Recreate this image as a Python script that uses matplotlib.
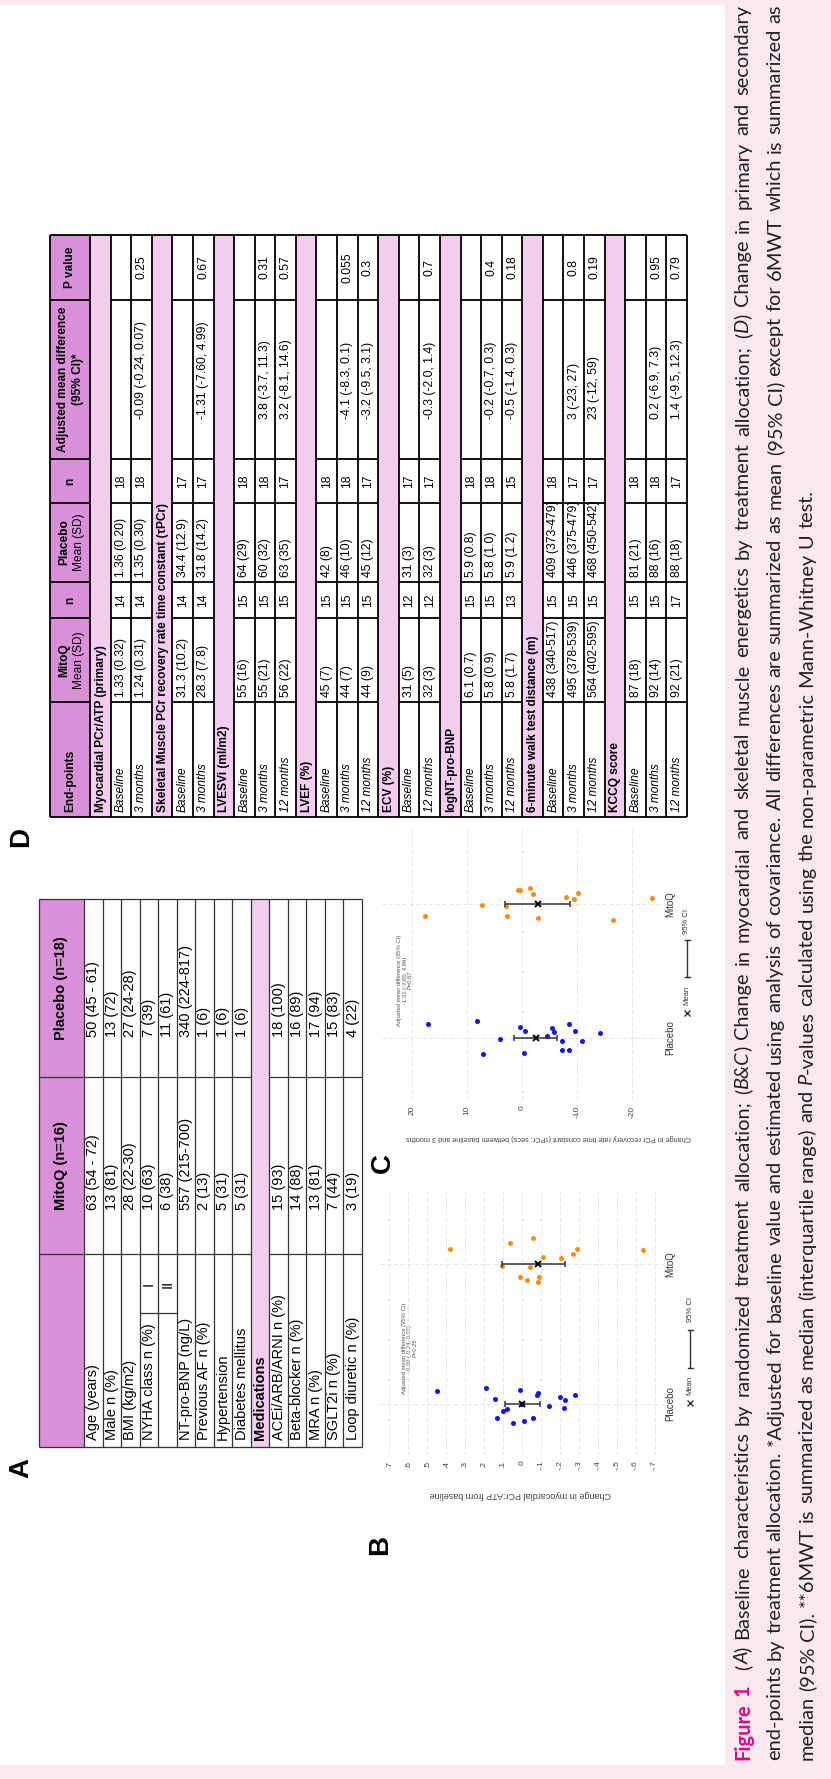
import numpy as np
import matplotlib
matplotlib.use("Agg")
import matplotlib.pyplot as plt
from matplotlib.patches import Rectangle
from matplotlib.collections import LineCollection
import matplotlib.transforms as mtransforms

# ======================= DATA =======================
# ---- Table A: baseline characteristics ----
tabA_header = ["", "MitoQ (n=16)", "Placebo (n=18)"]
tabA_labels = ["Age (years)", "Male n (%)", "BMI (kg/m2)", "NYHA class n (%)", "",
               "NT-pro-BNP (ng/L)", "Previous AF n (%)", "Hypertension", "Diabetes mellitus",
               "Medications", "ACEi/ARB/ARNI n (%)", "Beta-blocker n (%)", "MRA n (%)",
               "SGLT2i n (%)", "Loop diuretic n (%)"]
tabA_sub = ["", "", "", "I", "II", "", "", "", "", None, "", "", "", "", ""]
tabA_mitoq = ["63 (54 - 72)", "13 (81)", "28 (22-30)", "10 (63)", "6 (38)", "557 (215-700)",
              "2 (13)", "5 (31)", "5 (31)", None, "15 (93)", "14 (88)", "13 (81)", "7 (44)", "3 (19)"]
tabA_placebo = ["50 (45 - 61)", "13 (72)", "27 (24-28)", "7 (39)", "11 (61)", "340 (224-817)",
                "1 (6)", "1 (6)", "1 (6)", None, "18 (100)", "16 (89)", "17 (94)", "15 (83)", "4 (22)"]

# ---- Table D: end-points ----
tabD_header = ["End-points", "MitoQ", "Mean (SD)", "n", "Placebo", "Mean (SD)", "n",
               "Adjusted mean difference", "(95% CI)*", "P value"]
tabD_endpoints = ["Myocardial PCr/ATP (primary)", "Baseline", "3 months",
                  "Skeletal Muscle PCr recovery rate time constant (τPCr)", "Baseline", "3 months",
                  "LVESVi (ml/m2)", "Baseline", "3 months", "12 months",
                  "LVEF (%)", "Baseline", "3 months", "12 months",
                  "ECV (%)", "Baseline", "12 months",
                  "logNT-pro-BNP", "Baseline", "3 months", "12 months",
                  "6-minute walk test distance (m)", "Baseline", "3 months", "12 months",
                  "KCCQ score", "Baseline", "3 months", "12 months"]
tabD_mitoq = [None, "1.33 (0.32)", "1.24 (0.31)", None, "31.3 (10.2)", "28.3 (7.8)",
              None, "55 (16)", "55 (21)", "56 (22)", None, "45 (7)", "44 (7)", "44 (9)",
              None, "31 (5)", "32 (3)", None, "6.1 (0.7)", "5.8 (0.9)", "5.8 (1.7)",
              None, "438 (340-517)", "495 (378-539)", "564 (402-595)",
              None, "87 (18)", "92 (14)", "92 (21)"]
tabD_mitoq_n = [None, "14", "14", None, "14", "14", None, "15", "15", "15", None, "15", "15", "15",
                None, "12", "12", None, "15", "15", "13", None, "15", "15", "15", None, "15", "15", "17"]
tabD_placebo = [None, "1.36 (0.20)", "1.35 (0.30)", None, "34.4 (12.9)", "31.8 (14.2)",
                None, "64 (29)", "60 (32)", "63 (35)", None, "42 (8)", "46 (10)", "45 (12)",
                None, "31 (3)", "32 (3)", None, "5.9 (0.8)", "5.8 (1.0)", "5.9 (1.2)",
                None, "409 (373-479)", "446 (375-479)", "468 (450-542)",
                None, "81 (21)", "88 (16)", "88 (18)"]
tabD_placebo_n = [None, "18", "18", None, "17", "17", None, "18", "18", "17", None, "18", "18", "17",
                  None, "17", "17", None, "18", "18", "15", None, "18", "17", "17", None, "18", "18", "17"]
tabD_adj = [None, "", "-0.09 (-0.24, 0.07)", None, "", "-1.31 (-7.60, 4.99)",
            None, "", "3.8 (-3.7, 11.3)", "3.2 (-8.1, 14.6)", None, "", "-4.1 (-8.3, 0.1)", "-3.2 (-9.5, 3.1)",
            None, "", "-0.3 (-2.0, 1.4)", None, "", "-0.2 (-0.7, 0.3)", "-0.5 (-1.4, 0.3)",
            None, "", "3 (-23, 27)", "23 (-12, 59)", None, "", "0.2 (-6.9, 7.3)", "1.4 (-9.5, 12.3)"]
tabD_p = [None, "", "0.25", None, "", "0.67", None, "", "0.31", "0.57", None, "", "0.055", "0.3",
          None, "", "0.7", None, "", "0.4", "0.18", None, "", "0.8", "0.19", None, "", "0.95", "0.79"]

# ---- Panel B: change in myocardial PCr:ATP ----
groups = ["Placebo", "MitoQ"]
B_placebo = [0.45, 0.19, 0.14, 0.13, 0.10, 0.08, 0.05, 0.01, 0.00, -0.01, -0.06, -0.08, -0.085,
             -0.14, -0.20, -0.22, -0.225, -0.28]
B_placebo_jit = [0.095, 0.117, 0.038, -0.103, -0.05, -0.038, -0.138, 0.10, 0.0, -0.122, -0.103,
                 0.064, 0.081, -0.014, 0.048, -0.026, 0.029, 0.064]
B_mitoq = [0.379, 0.104, 0.063, 0.012, -0.026, -0.042, -0.06, -0.083, -0.088, -0.113, -0.204,
           -0.269, -0.292, -0.639]
B_mitoq_jit = [0.107, -0.012, 0.155, -0.091, -0.112, -0.019, 0.191, -0.129, -0.088, 0.053, 0.043,
               0.074, 0.11, 0.103]
B_means = [-0.002, -0.083]
B_ci = [(-0.093, 0.088), (-0.225, 0.104)]
B_ticks = [0.7, 0.6, 0.5, 0.4, 0.3, 0.2, 0.1, 0.0, -0.1, -0.2, -0.3, -0.4, -0.5, -0.6, -0.7]
B_note = "Adjusted mean difference (95% CI)\n-0.09 (-0.24, 0.07)\nP=0.25"
B_ylabel = "Change in myocardial PCr:ATP from baseline"

# ---- Panel C: change in skeletal muscle PCr recovery time constant ----
C_placebo = [16.97, 8.06, 6.97, 3.88, 0.36, -0.36, -0.61, -4.6, -5.45, -5.94, -7.33, -7.33,
             -8.55, -8.67, -9.64, -10.9, -14.24]
C_placebo_jit = [0.105, 0.1225, -0.125, -0.01, 0.0825, -0.1125, 0.0525, 0.01, 0.07, 0.0425,
                 -0.0225, -0.0925, -0.0925, 0.1, 0.0525, -0.0275, 0.0325]
C_mitoq = [17.58, 7.15, 2.85, 2.6, 0.73, 0.30, -1.58, -2.0, -2.9, -8.12, -9.45, -10.24, -16.6, -23.7]
C_mitoq_jit = [-0.0875, -0.005, -0.015, -0.0875, 0.105, 0.11, 0.125, 0.075, -0.105, 0.0575,
               0.04, 0.0875, -0.12, 0.0475]
C_means = [-2.55, -2.9]
C_ci = [(-6.36, 1.33), (-8.79, 2.97)]
C_ticks = [20, 10, 0, -10, -20]
C_note = "Adjusted mean difference (95% CI)\n-1.31 (-7.60, 4.99)\nP=0.67"
C_ylabel = "Change in PCr recovery rate time constant (τPCr; secs) between baseline and 3 months"

legend_labels = ["Mean", "95% CI"]
panel_letters = ["A", "B", "C", "D"]

# ---- Caption ----
cap_line1 = [("Figure 1", "f"), ("  (", "n"), ("A", "i"),
             (") Baseline characteristics by randomized treatment allocation; (", "n"), ("B&C", "i"),
             (") Change in myocardial and skeletal muscle energetics by treatment allocation; (", "n"),
             ("D", "i"), (") Change in primary and secondary", "n")]
cap_line2 = [("end-points by treatment allocation. *Adjusted for baseline value and estimated using "
              "analysis of covariance. All differences are summarized as mean (95% CI) except for "
              "6MWT which is summarized as", "n")]
cap_line3 = [("median (95% CI). **6MWT is summarized as median (interquartile range) and ", "n"),
             ("P", "i"), ("-values calculated using the non-parametric Mann-Whitney U test.", "n")]

# ======================= FIGURE =======================
W, H = 831, 1779
fig = plt.figure(figsize=(W / 100, H / 100), dpi=100)
fig.patch.set_facecolor("white")
bg = fig.add_axes([0, 0, 1, 1])
bg.set_xlim(0, W)
bg.set_ylim(H, 0)
bg.axis("off")

PINK_BG = "#FBE9F2"
HEAD = "#D990D8"
SECT = "#F3CDEF"
FONT = "Liberation Sans"
CAPFONT = "Lato"

bg.add_patch(Rectangle((0, 0), W, 5, color=PINK_BG, lw=0))
bg.add_patch(Rectangle((0, 1765), W, 14, color=PINK_BG, lw=0))
bg.add_patch(Rectangle((725, 0), W - 725, H, color=PINK_BG, lw=0))


def rtext(x, y, s, ha="left", size=9, weight="normal", style="normal", color="black",
          family=FONT, rot=90, **kw):
    return bg.text(x, y, s, rotation=rot, rotation_mode="anchor", ha=ha, va="center",
                   fontsize=size, fontweight=weight, fontstyle=style, color=color,
                   family=family, **kw)


# ---------------- Table D ----------------
nD = len(tabD_endpoints)
D_top, D_hb = 50, 90
D_bot = 687
D_rh = (D_bot - D_hb) / nD
D_cols = [817, 702, 618, 582, 503, 459, 300, 235]
segs = []
bg.add_patch(Rectangle((D_top, 235), D_hb - D_top, 817 - 235, facecolor=HEAD, edgecolor="none"))
segs.append([(D_top, 235), (D_top, 817)])
segs.append([(D_hb, 235), (D_hb, 817)])
for c in D_cols:
    segs.append([(D_top, c), (D_hb, c)])
for i in range(nD):
    xa = D_hb + i * D_rh
    xb = xa + D_rh
    xc = (xa + xb) / 2
    segs.append([(xb, 235), (xb, 817)])
    if tabD_mitoq[i] is None:
        bg.add_patch(Rectangle((xa, 235), D_rh, 817 - 235, facecolor=SECT, edgecolor="none"))
        segs.append([(xa, 235), (xb, 235)])
        segs.append([(xa, 817), (xb, 817)])
        rtext(xc + 0.5, 812, tabD_endpoints[i], size=8.6, weight="bold")
    else:
        for c in D_cols:
            segs.append([(xa, c), (xb, c)])
        rtext(xc, 812, tabD_endpoints[i], size=8.6, style="italic")
        rtext(xc, 697, tabD_mitoq[i], size=8.8)
        rtext(xc, 600, tabD_mitoq_n[i], ha="center", size=8.8)
        rtext(xc, 577, tabD_placebo[i], size=8.8)
        rtext(xc, 481, tabD_placebo_n[i], ha="center", size=8.8)
        rtext(xc, 419, tabD_adj[i], size=8.8)
        rtext(xc, 267.5, tabD_p[i], ha="center", size=8.8)
bg.add_collection(LineCollection(segs, colors="black", linewidths=1.3))

hd = tabD_header
rtext(70, 812, hd[0], size=8.6, weight="bold")
rtext(64, 660, hd[1], ha="center", size=8.6, weight="bold")
rtext(79, 660, hd[2], ha="center", size=8.6)
rtext(70, 600, hd[3], ha="center", size=8.6, weight="bold")
rtext(64, 542.5, hd[4], ha="center", size=8.6, weight="bold")
rtext(79, 542.5, hd[5], ha="center", size=8.6)
rtext(70, 481, hd[6], ha="center", size=8.6, weight="bold")
rtext(63, 379.5, hd[7], ha="center", size=8.6, weight="bold")
rtext(78, 379.5, hd[8], ha="center", size=8.6, weight="bold")
rtext(70, 267.5, hd[9], ha="center", size=8.6, weight="bold")

# ---------------- Table A ----------------
nA = len(tabA_labels)
A_top, A_hb, A_bot = 39, 84, 362
A_rh = (A_bot - A_hb) / nA
A_L, A_SUB, A_M, A_P, A_R = 1447, 1313, 1254, 1077, 899
segsA = []
bg.add_patch(Rectangle((A_top, A_R), A_hb - A_top, A_L - A_R, facecolor=HEAD, edgecolor="none"))
segsA += [[(A_top, A_R), (A_top, A_L)], [(A_hb, A_R), (A_hb, A_L)],
          [(A_top, A_R), (A_bot, A_R)], [(A_top, A_L), (A_bot, A_L)],
          [(A_top, A_M), (A_hb, A_M)], [(A_top, A_P), (A_hb, A_P)]]
rtext((A_top + A_hb) / 2, (A_M + A_P) / 2, tabA_header[1], ha="center", size=10.5, weight="bold")
rtext((A_top + A_hb) / 2, (A_P + A_R) / 2, tabA_header[2], ha="center", size=10.5, weight="bold")
for i in range(nA):
    xa = A_hb + i * A_rh
    xb = xa + A_rh
    xc = (xa + xb) / 2
    segsA.append([(xb, A_R), (xb, A_L)])
    if tabA_mitoq[i] is None:
        bg.add_patch(Rectangle((xa, A_R), A_rh, A_L - A_R, facecolor=SECT, edgecolor="none"))
        rtext(xc, 1440, tabA_labels[i], size=10.5, weight="bold")
        continue
    segsA += [[(xa, A_M), (xb, A_M)], [(xa, A_P), (xb, A_P)]]
    if tabA_sub[i]:
        segsA.append([(xa, A_SUB), (xb, A_SUB)])
        rtext(xc, (A_SUB + A_M) / 2, tabA_sub[i], ha="center", size=10.5)
    rtext(xc, 1440, tabA_labels[i], size=10.5)
    rtext(xc, 1210, tabA_mitoq[i], size=10.5)
    rtext(xc, 1037, tabA_placebo[i], size=10.5)
bg.add_collection(LineCollection(segsA, colors="#333333", linewidths=0.9))


# ---------------- Scatter panels B & C ----------------
def px_axes(x0, x1, y0, y1):
    return fig.add_axes([x0 / W, 1 - y1 / H, (x1 - x0) / W, (y1 - y0) / H])


def stata_fmt(v, dec):
    if dec == 0:
        return f"{v:.0f}"
    s = f"{v:.{dec}f}"
    if float(s) == 0:
        return "0"
    return s.replace("0.", ".")


def panel(ax, xlim, ylim, ticks, dec, pl, pl_j, mq, mq_j, means, cis):
    ax.set_xlim(*xlim)
    ax.set_ylim(*ylim)
    ax.set_facecolor("none")
    for s in ax.spines.values():
        s.set_visible(False)
    for t in ticks:
        ax.axvline(t, color="#E2E2E2", lw=0.6, ls=(0, (5, 3)), zorder=0)
    for c in (0, 1):
        ax.axhline(c, color="#E2E2E2", lw=0.6, ls=(0, (5, 3)), zorder=0)
    ax.set_xticks(ticks)
    ax.set_xticklabels([stata_fmt(t, dec) for t in ticks], rotation=90, fontsize=6,
                       color="#444444", family=FONT)
    ax.tick_params(axis="x", length=0, pad=4)
    ax.set_yticks([])
    ax.scatter(pl, np.array(pl_j) + 0, s=13, color="#1515E0", lw=0, zorder=3)
    ax.scatter(mq, np.array(mq_j) + 1, s=13, color="#F28C1E", lw=0, zorder=3)
    for pos, m, (lo, hi) in zip((0, 1), means, cis):
        ax.errorbar([m], [pos], xerr=[[m - lo], [hi - m]], fmt="none", ecolor="#333333",
                    elinewidth=1.1, capsize=2.5, capthick=1.1, zorder=4)
        ax.plot([m], [pos], marker="x", color="black", ms=5, mew=1.4, zorder=5)
    bt = mtransforms.blended_transform_factory(ax.transAxes, ax.transData)
    for pos, g in zip((0, 1), groups):
        ax.text(1.021, pos, g, transform=bt, rotation=90, rotation_mode="anchor", ha="center",
                va="center", fontsize=7, color="#333333", family=FONT)


axB = px_axes(380, 664, 1190, 1455)
panel(axB, (0.75, -0.75), (-0.365, 1.532), B_ticks, 1, B_placebo, B_placebo_jit,
      B_mitoq, B_mitoq_jit, B_means, B_ci)
axC = px_axes(381.5, 664.7, 828, 1100)
panel(axC, (25.5, -26), (-0.467, 1.572), C_ticks, 0, C_placebo, C_placebo_jit,
      C_mitoq, C_mitoq_jit, C_means, C_ci)

# annotations
rtext(410, 1348, B_note, ha="center", size=4.2, color="#555555", family=FONT,
      multialignment="center", linespacing=1.1)
rtext(405, 980, C_note, ha="center", size=4.2, color="#555555", family=FONT,
      multialignment="center", linespacing=1.1)
# y-axis titles (upside down)
rtext(520, 1495, B_ylabel, ha="center", size=6.5, color="#444444", rot=180)
rtext(548, 1137, C_ylabel, ha="center", size=5.3, color="#444444", rot=180)


# legends
def legend(x, y_x, y_mean, y_l0, y_l1, y_ci):
    bg.plot([x], [y_x], marker="x", color="#333333", ms=4, mew=1.0)
    rtext(x, y_mean, legend_labels[0], size=5.5, color="#333333")
    bg.plot([x, x], [y_l0, y_l1], color="#333333", lw=1.0)
    bg.plot([x - 2.5, x + 2.5], [y_l0, y_l0], color="#333333", lw=1.0)
    bg.plot([x - 2.5, x + 2.5], [y_l1, y_l1], color="#333333", lw=1.0)
    rtext(x, y_ci, legend_labels[1], size=5.5, color="#333333")


legend(690, 1403, 1395, 1368, 1330, 1322)
legend(687, 1013, 1005, 977, 940, 934)

# panel letters
for lab, (x, y) in zip(panel_letters, [(21, 1468), (380, 1545), (383, 1163), (21, 837)]):
    rtext(x, y, lab, ha="center", size=20, weight="bold")

# ---------------- Caption ----------------
fig.canvas.draw()
renderer = fig.canvas.get_renderer()
CAP_STYLE = {
    "n": dict(family=CAPFONT, color="#231F20"),
    "i": dict(family=CAPFONT, color="#231F20", fontstyle="italic"),
    "f": dict(family=CAPFONT, color="#E5007D", fontweight="bold"),
}


def tokenize(segments):
    words = [[]]
    gaps = [0]
    for txt, st in segments:
        parts = txt.split(" ")
        for k, p in enumerate(parts):
            if k > 0:
                if words[-1]:
                    words.append([])
                    gaps.append(1)
                else:
                    gaps[-1] += 1
            if p:
                words[-1].append((p, st))
    return [(w, g) for w, g in zip(words, gaps) if w]


def measure(s, st, fs):
    t = bg.text(0, 0, s, fontsize=fs, **CAP_STYLE[st])
    w = t.get_window_extent(renderer).width
    t.remove()
    return w


def line_layout(segments, fs):
    toks = tokenize(segments)
    sp = measure("a a", "n", fs) - measure("aa", "n", fs)
    widths = [[measure(p, st, fs) for p, st in w] for w, g in toks]
    nat = sum(sum(w) for w in widths) + sp * sum(g for (w, g) in toks[1:])
    return toks, widths, sp, nat


def draw_line(x, y0, segments, fs, target=None):
    toks, widths, sp, nat = line_layout(segments, fs)
    ngap = sum(g for (w, g) in toks[1:])
    extra = (target - nat) / ngap if (target is not None and ngap) else 0
    y = y0
    for k, ((w, g), ws) in enumerate(zip(toks, widths)):
        if k > 0:
            y -= g * (sp + extra)
        for (p, st), pw in zip(w, ws):
            bg.text(x, y, p, rotation=90, rotation_mode="anchor", ha="left", va="center",
                    fontsize=fs, **CAP_STYLE[st])
            y -= pw


Y0, TARGET = 1760, 1755
nat2 = line_layout(cap_line2, 10)[3]
cap_fs = 10 * TARGET / nat2 * 0.995
draw_line(743, Y0, cap_line1, cap_fs, TARGET)
draw_line(775, Y0, cap_line2, cap_fs, TARGET)
draw_line(807, Y0, cap_line3, cap_fs)

fig.savefig("out.png", dpi=100, facecolor="white")
